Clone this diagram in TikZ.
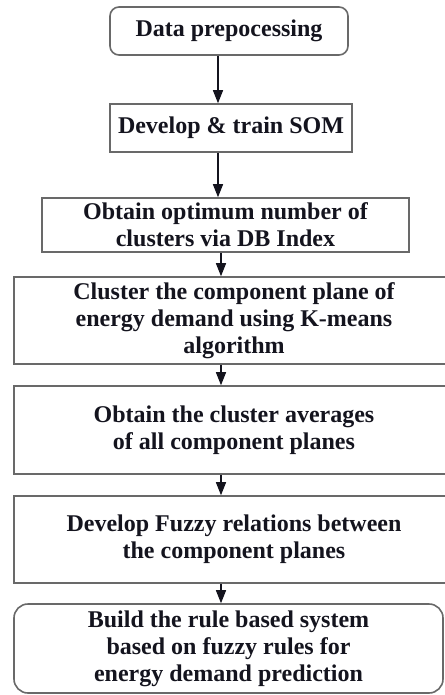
\documentclass[tikz,border=0pt]{standalone}
\usepackage{fontspec}
\setmainfont{Liberation Serif}
\usetikzlibrary{arrows.meta}
\definecolor{edge}{RGB}{105,105,105}
\definecolor{ink}{RGB}{20,20,30}
\tikzset{
  boxbase/.style={draw=edge, line width=1.6pt, fill=white, inner sep=0pt, align=center,
    text=ink, font=\fontsize{24}{27}\selectfont\bfseries},
  sqbox/.style={boxbase},
  rbox/.style={boxbase, rounded corners=9pt},
  arr/.style={draw=ink, line width=1.3pt, -{Triangle[length=13pt,width=10pt]}}
}
\begin{document}
\begin{tikzpicture}[x=1pt,y=-1pt]
\useasboundingbox (0,0) rectangle (444,695);
\node[rbox, minimum width=238pt, minimum height=48pt] (b1) at (229,31) {Data prepocessing};
\node[sqbox, minimum width=242pt, minimum height=48pt] (b2) at (231,128) {Develop \& train SOM};
\node[sqbox, minimum width=367pt, minimum height=54pt] (b3) at (225.5,225) {Obtain optimum number of\\clusters via DB Index};
\node[sqbox, minimum width=440pt, minimum height=87pt] (b4) at (234,320.5) {Cluster the component plane of\\energy demand using K-means\\algorithm};
\node[sqbox, minimum width=440pt, minimum height=88pt] (b5) at (234,430) {Obtain the cluster averages\\of all component planes};
\node[sqbox, minimum width=440pt, minimum height=87pt] (b6) at (234,539.5) {Develop Fuzzy relations between\\the component planes};
\node[rbox, rounded corners=14pt, minimum width=429pt, minimum height=89pt] (b7) at (228.5,648.5) {Build the rule based system\\based on fuzzy rules for\\energy demand prediction};
\coordinate (x1) at (218,0);
\coordinate (x2) at (221,0);
\draw[arr] (b1.south -| x1) -- (b2.north -| x1);
\draw[arr] (b2.south -| x1) -- (b3.north -| x1);
\draw[arr] (b3.south -| x2) -- (b4.north -| x2);
\draw[arr] (b4.south -| x2) -- (b5.north -| x2);
\draw[arr] (b5.south -| x2) -- (b6.north -| x2);
\draw[arr] (b6.south -| x2) -- (b7.north -| x2);
\end{tikzpicture}
\end{document}
